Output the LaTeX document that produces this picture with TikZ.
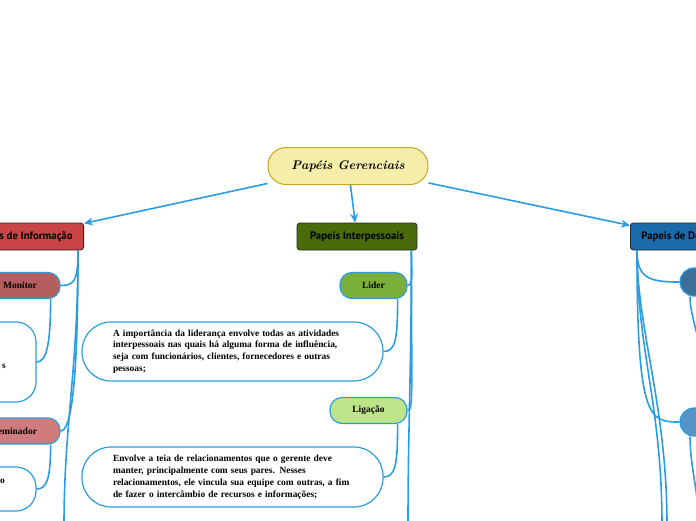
\documentclass[tikz,border=0pt]{standalone}
\usepackage{fontspec}
\newfontfamily\boxfont{Liberation Serif}
\newfontfamily\headfont{PT Sans}
\usetikzlibrary{arrows.meta}
\definecolor{connblue}{HTML}{2A9DE1}
\definecolor{rootfill}{HTML}{F5EDAA}
\definecolor{rootline}{HTML}{C6A624}
\definecolor{infored}{HTML}{C94545}
\definecolor{intgreen}{HTML}{4A6B0B}
\definecolor{decblue}{HTML}{1B6BAA}
\definecolor{monred}{HTML}{B45E5E}
\definecolor{disred}{HTML}{D17C7C}
\definecolor{lidgreen}{HTML}{7BAE3A}
\definecolor{liggreen}{HTML}{BEE58A}
\definecolor{decdark}{HTML}{3C6E97}
\definecolor{declight}{HTML}{5592C6}

\begin{document}
\begin{tikzpicture}[x=1pt,y=-1pt,
  conn/.style={draw=connblue,line width=1.6pt},
  arrow/.style={conn,-{Stealth[length=9pt,width=8pt]}},
  root/.style={draw=rootline,fill=rootfill,line width=1pt,rounded corners=18pt,
    minimum width=160pt,minimum height=37pt,inner sep=0pt},
  head/.style={draw=black!85,line width=0.8pt,rounded corners=3pt,
    minimum height=27pt,inner ysep=0pt,inner xsep=11pt,
    font=\headfont\bfseries\fontsize{10.8}{12}\selectfont},
  pill/.style={draw=connblue,line width=1.2pt,rounded corners=12pt,
    minimum height=26pt,inner sep=0pt,font=\boxfont\bfseries\fontsize{9.5}{11}\selectfont},
  note/.style={draw=connblue,line width=1.2pt,fill=white,rounded corners=29pt,
    minimum width=301pt,minimum height=59pt,inner sep=0pt,text width=239pt,align=left,
    font=\boxfont\bfseries\fontsize{9.4}{11.8}\selectfont}]
  \useasboundingbox (0,0) rectangle (696,520);
  \clip (0,0) rectangle (696,520);
  % central topic
  \node[root] (root) at (348,166) {\fontsize{12.5}{14}\selectfont\bfseries\itshape Papéis Gerenciais};
  % main branches
  \node[head,fill=infored,anchor=east] (info) at (84,236.5) {Papeis de Informação};
  \node[head,fill=intgreen,minimum width=120pt] (inter) at (357,236.5) {Papeis Interpessoais};
  \node[head,fill=decblue,anchor=west] (dec) at (630,236.5) {Papeis de Decisão};
  \draw[arrow] (root) -- (info);
  \draw[arrow] (root) -- (inter);
  \draw[arrow] (root) -- (dec);

  % informacao branch (left, cut off)
  \node[pill,fill=monred,minimum width=80pt] (monitor) at (20,285.5) {Monitor};
  \node[note,minimum width=80pt,minimum height=80pt,text width=60pt,rounded corners=20pt] (monnote) at (-4,362) {};
  \node[font=\boxfont\bfseries\fontsize{9.4}{11.8}\selectfont,anchor=east,inner sep=0pt] (monnotetxt) at (6,366) {s};
  \node[pill,fill=disred,minimum width=102pt] (dissem) at (9,431) {Disseminador};
  \node[note,minimum width=80pt,minimum height=44pt,text width=60pt,rounded corners=20pt] (disnote) at (-4,489) {};
  \node[font=\boxfont\bfseries\fontsize{9.4}{11.8}\selectfont,anchor=east,inner sep=0pt] (disnotetxt) at (5,481) {o};
  \coordinate (infoend) at (64,525);
  \draw[conn] ([xshift=-6pt]info.south east) .. controls +(0,30) and +(14,0) .. (monitor.east);
  \draw[conn] ([xshift=-6pt]info.south east) .. controls +(0,140) and +(10,0) .. (dissem.east);
  \draw[conn] ([xshift=-6pt]info.south east) .. controls +(0,120) and +(0,-100) .. (infoend);
  \draw[conn] ([xshift=-10pt]monitor.south east) .. controls +(0,45) and +(10,0) .. (monnote.east);
  \draw[conn] ([xshift=-10pt]dissem.south east) .. controls +(0,35) and +(10,0) .. (disnote.east);

  % interpessoais branch (middle)
  \node[pill,fill=lidgreen,minimum width=67pt] (lider) at (373.5,285.5) {Lider};
  \node[note] (leader) at (232.5,351.5) {A importância da liderança envolve todas as atividades\\
    interpessoais nas quais há alguma forma de influência,\\
    seja com funcionários, clientes, fornecedores e outras\\
    pessoas;};
  \node[pill,fill=liggreen,minimum width=77pt] (ligacao) at (368.5,410.5) {Ligação};
  \node[note,minimum height=60pt] (link) at (232.5,477) {Envolve a teia de relacionamentos que o gerente deve\\
    manter, principalmente com seus pares. Nesses\\
    relacionamentos, ele vincula sua equipe com outras, a fim\\
    de fazer o intercâmbio de recursos e informações;};
  \coordinate (interend) at (408,525);
  \draw[conn] ([xshift=-6pt]inter.south east) .. controls +(0,20) and +(6,0) .. (lider.east);
  \draw[conn] ([xshift=-6pt]inter.south east) .. controls +(0,140) and +(6,0) .. (ligacao.east);
  \draw[conn] ([xshift=-6pt]inter.south east) .. controls +(0,120) and +(0,-100) .. (interend);
  \draw[conn] ([xshift=-10pt]lider.south east) .. controls +(0,40) and +(12,0) .. (leader.east);
  \draw[conn] ([xshift=-10pt]ligacao.south east) .. controls +(0,40) and +(12,0) .. (link.east);

  % decisao branch (right, cut off)
  \node[pill,fill=decdark,minimum width=40pt,minimum height=28pt,rounded corners=14pt] (deca) at (700,282) {};
  \node[pill,fill=declight,minimum width=40pt,minimum height=28pt,rounded corners=14pt] (decb) at (700,422) {};
  \coordinate (decend) at (662,525);
  \coordinate (decend2) at (667,525);
  \coordinate (decaend) at (701,360);
  \coordinate (decbend) at (699,525);
  \draw[conn] ([xshift=7pt]dec.south west) .. controls +(0,28) and +(-30,0) .. (deca.west);
  \draw[conn] ([xshift=7pt]dec.south west) .. controls +(0,170) and +(-30,0) .. (decb.west);
  \draw[conn] ([xshift=7pt]dec.south west) .. controls +(0,100) and +(0,-120) .. (decend);
  \draw[conn] ([xshift=7pt]dec.south west) .. controls +(0,80) and +(0,-120) .. (decend2);
  \draw[conn] ([xshift=-10pt]deca.south) .. controls +(0,20) and +(0,-20) .. (decaend);
  \draw[conn] ([xshift=-10pt]decb.south) .. controls +(0,30) and +(0,-30) .. (decbend);
\end{tikzpicture}
\end{document}
